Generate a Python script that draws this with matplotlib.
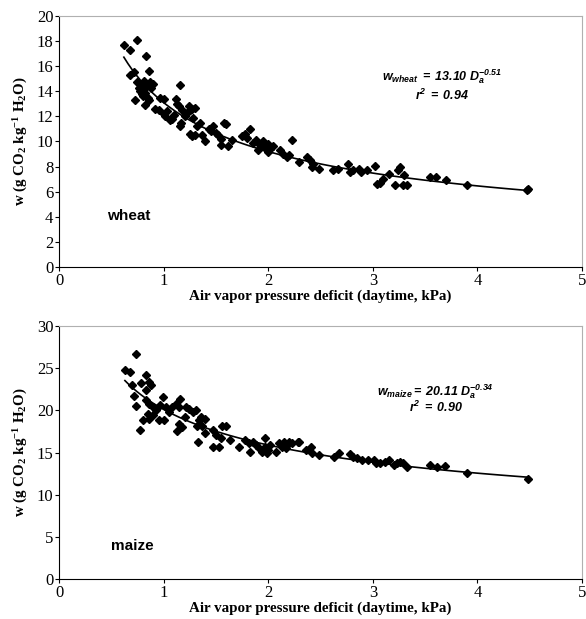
import numpy as np
import matplotlib
matplotlib.use("Agg")
import matplotlib.pyplot as plt

plt.rcParams['mathtext.fontset'] = 'custom'
plt.rcParams['mathtext.rm'] = 'Liberation Serif:bold'
plt.rcParams['mathtext.bf'] = 'Liberation Serif:bold'
plt.rcParams['mathtext.it'] = 'Liberation Serif:bold:italic'
plt.rcParams['mathtext.sf'] = 'Liberation Sans:bold:italic'

# wheat: daytime vapor pressure deficit (kPa) vs w
wheat_x = [0.62, 0.68, 0.75, 0.68, 0.72, 0.73, 0.75, 0.76, 0.77, 0.78, 0.79, 0.80,
           0.81, 0.82, 0.83, 0.84, 0.85, 0.86, 0.82, 0.87, 0.88, 0.90, 0.86, 0.80,
           0.92, 0.96, 0.97, 1.00, 1.00, 1.01, 1.03, 1.06, 1.08, 1.10, 1.12, 1.13,
           1.15, 1.16, 1.16, 1.17, 1.18, 1.20, 1.22, 1.24, 1.25, 1.27, 1.28, 1.30,
           1.25, 1.27, 1.30, 1.32, 1.35, 1.37, 1.40, 1.43, 1.45, 1.47, 1.50, 1.52,
           1.55, 1.58, 1.60, 1.62, 1.65, 1.55, 1.75, 1.78, 1.80, 1.83, 1.85, 1.88,
           1.90, 1.92, 1.95, 1.97, 2.00, 2.00, 2.02, 2.05, 2.11, 2.14, 2.18, 2.23,
           2.20, 2.29, 2.37, 2.40, 2.43, 2.42, 2.49, 2.62, 2.67, 2.76, 2.78, 2.81,
           2.87, 2.89, 2.94, 3.02, 3.04, 3.07, 3.10, 3.15, 3.21, 3.24, 3.26, 3.29,
           3.30, 3.33, 3.55, 3.60, 3.70, 3.90, 4.47, 4.48]
wheat_w = [17.7, 17.3, 18.1, 15.3, 15.5, 13.3, 14.7, 14.3, 14.0, 14.6, 13.8, 14.2,
           14.8, 13.9, 16.8, 14.4, 13.5, 15.6, 12.9, 14.7, 14.3, 14.6, 13.3, 13.6,
           12.6, 12.5, 13.5, 13.4, 12.2, 12.0, 12.4, 11.7, 11.8, 12.1, 13.4, 13.0,
           12.8, 14.5, 11.2, 11.5, 12.5, 12.0, 12.3, 12.8, 12.5, 12.6, 11.9, 12.7,
           10.6, 10.4, 10.5, 11.2, 11.5, 10.5, 10.0, 11.0, 10.8, 11.2, 10.7, 10.5,
           9.7, 11.5, 11.4, 9.6, 10.1, 10.2, 10.4, 10.6, 10.3, 11.0, 9.9, 10.1,
           9.3, 9.7, 10.0, 9.5, 9.8, 9.2, 9.4, 9.6, 9.3, 9.0, 8.8, 10.15,
           8.9, 8.4, 8.8, 8.5, 8.2, 8.0, 7.8, 7.7, 7.8, 8.2, 7.6, 7.7,
           7.8, 7.6, 7.7, 8.05, 6.6, 6.7, 7.0, 7.4, 6.5, 7.7, 7.95, 6.5,
           7.3, 6.5, 7.2, 7.2, 6.9, 6.5, 6.1, 6.25]

# maize
maize_x = [0.63, 0.68, 0.74, 0.72, 0.74, 0.77, 0.70, 0.78, 0.83, 0.86, 0.88, 0.83,
           0.80, 0.85, 0.86, 0.90, 0.83, 0.86, 0.90, 0.93, 0.96, 1.00, 0.99, 0.97,
           1.02, 1.05, 1.08, 1.12, 1.15, 1.16, 1.15, 1.13, 1.18, 1.20, 1.21, 1.24,
           1.28, 1.31, 1.34, 1.32, 1.33, 1.36, 1.40, 1.37, 1.40, 1.47, 1.50, 1.47,
           1.53, 1.55, 1.56, 1.60, 1.63, 1.72, 1.78, 1.82, 1.85, 1.83, 1.88, 1.91,
           1.94, 1.97, 1.97, 1.99, 2.00, 2.02, 2.07, 2.10, 2.13, 2.17, 2.20, 2.23,
           2.28, 2.15, 2.18, 2.29, 2.36, 2.41, 2.42, 2.49, 2.63, 2.68, 2.78, 2.81,
           2.85, 2.90, 2.95, 3.01, 3.03, 3.07, 3.12, 3.15, 3.20, 3.23, 3.26, 3.29,
           3.33, 3.55, 3.61, 3.69, 3.90, 4.48]
maize_w = [24.75, 24.5, 26.7, 21.7, 20.5, 17.7, 23.0, 23.2, 24.2, 23.4, 23.0, 22.4,
           18.8, 19.6, 19.0, 19.4, 21.2, 20.8, 20.4, 20.0, 18.8, 18.8, 21.6, 20.6,
           20.4, 19.8, 20.4, 20.8, 20.4, 21.4, 18.4, 17.5, 18.0, 19.2, 20.4, 20.2,
           19.8, 20.0, 18.8, 18.2, 16.3, 19.2, 19.0, 18.2, 17.3, 17.7, 17.1, 15.7,
           15.7, 16.7, 18.2, 18.2, 16.5, 15.7, 16.5, 16.1, 16.3, 15.1, 15.9, 15.5,
           15.1, 16.7, 15.7, 14.9, 15.3, 15.9, 15.1, 16.1, 15.7, 15.5, 16.3, 16.1,
           16.3, 16.3, 15.9, 16.2, 15.3, 15.7, 14.9, 14.7, 14.5, 14.9, 14.8, 14.5,
           14.3, 14.1, 14.1, 14.1, 13.7, 13.7, 13.9, 14.1, 13.5, 13.7, 13.9, 13.7,
           13.3, 13.5, 13.3, 13.4, 12.6, 11.9]

# power law fits w = a * D^b
wheat_fit = (13.10, -0.51)
maize_fit = (20.11, -0.34)

xticks = [0, 1, 2, 3, 4, 5]
wheat_yticks = [0, 2, 4, 6, 8, 10, 12, 14, 16, 18, 20]
maize_yticks = [0, 5, 10, 15, 20, 25, 30]

fig = plt.figure(figsize=(5.86, 6.19), dpi=100)
ax1 = fig.add_axes([0.1007, 0.5687, 0.8925, 0.4055])
ax2 = fig.add_axes([0.1007, 0.0646, 0.8925, 0.4087])

panels = [
    (ax1, wheat_x, wheat_w, wheat_fit, wheat_yticks, 'wheat',
     r'$\mathsf{w_{wheat}\ =\ 13.10\ D_a^{-0.51}}$', r'$\mathsf{r^2\ =\ 0.94}$',
     (0.46, 4.1), (3.66, 15.2), (3.66, 13.7)),
    (ax2, maize_x, maize_w, maize_fit, maize_yticks, 'maize',
     r'$\mathsf{w_{maize}=\ 20.11\ D_a^{-0.34}}$', r'$\mathsf{r^2\ =\ 0.90}$',
     (0.5, 3.9), (3.6, 22.2), (3.6, 20.3)),
]

for ax, x, w, fit, yt, name, eq, r2, name_pos, eq_pos, r2_pos in panels:
    ax.plot(x, w, linestyle='none', marker='D', markersize=4.5, color='black')
    xs = np.linspace(min(x), max(x), 100)
    ax.plot(xs, fit[0] * xs ** fit[1], color='black', linewidth=1.2)
    ax.set_xlim(0, 5)
    ax.set_ylim(yt[0], yt[-1])
    ax.set_xticks(xticks)
    ax.set_yticks(yt)
    ax.tick_params(direction='out', length=3, width=0.8, labelsize=12, pad=1)
    for lab in ax.get_xticklabels() + ax.get_yticklabels():
        lab.set_fontfamily('Liberation Serif')
    ax.spines['top'].set_color('#b0b0b0')
    ax.spines['right'].set_color('#b0b0b0')
    ax.set_xlabel('Air vapor pressure deficit (daytime, kPa)', fontsize=10.8,
                  fontweight='bold', fontfamily='Liberation Serif', labelpad=1)
    ax.set_ylabel(r'w (g CO$_2$ kg$^{-1}$ H$_2$O)', fontsize=10.8,
                  fontweight='bold', fontfamily='Liberation Serif', labelpad=5)
    ax.text(name_pos[0], name_pos[1], name, fontsize=11, fontweight='bold',
            fontfamily='Liberation Sans', va='center', ha='left')
    ax.text(eq_pos[0], eq_pos[1], eq, fontsize=9, ha='center', va='center')
    ax.text(r2_pos[0], r2_pos[1], r2, fontsize=9, ha='center', va='center')

fig.savefig('out.png', dpi=100)
